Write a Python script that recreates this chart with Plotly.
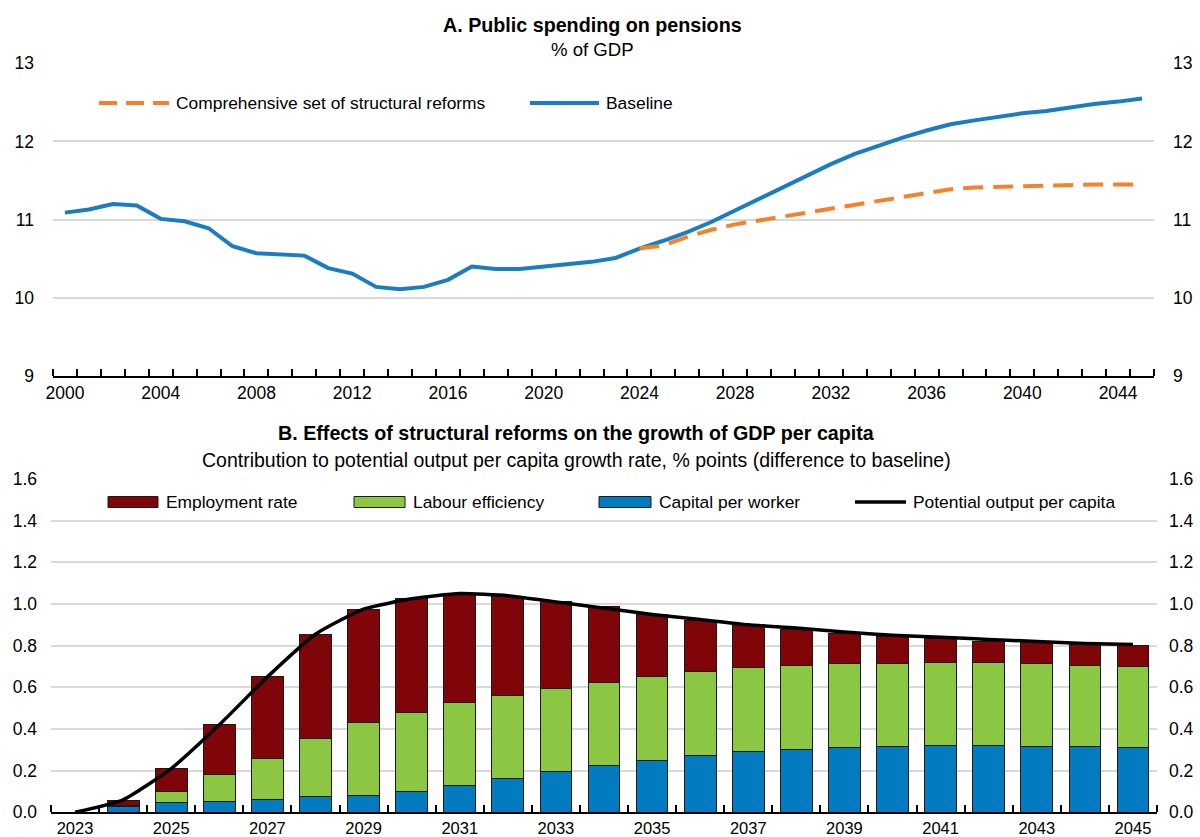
import plotly.graph_objects as go

# Panel A: public spending on pensions, % of GDP
years_a = list(range(2000, 2046))
baseline = [11.09, 11.13, 11.20, 11.18, 11.01, 10.98, 10.89, 10.66, 10.57, 10.55,
            10.54, 10.38, 10.31, 10.14, 10.11, 10.14, 10.23, 10.40, 10.37, 10.37,
            10.40, 10.42, 10.46, 10.51, 10.63, 10.73, 10.84, 10.97, 11.12, 11.27,
            11.42, 11.57, 11.71, 11.84, 11.95, 12.05, 12.14, 12.22, 12.27, 12.32,
            12.36, 12.39, 12.44, 12.48, 12.51, 12.55]
years_reform = list(range(2024, 2046))
reforms = [10.63, 10.67, 10.78, 10.87, 10.94, 10.99, 11.05, 11.09, 11.14, 11.20,
           11.24, 11.29, 11.34, 11.39, 11.41, 11.42, 11.42, 11.43, 11.44, 11.45,
           11.45, 11.45]

# Panel B: contributions to potential output per capita growth (pp)
years_b = list(range(2023, 2046))
capital = [0.0, 0.027, 0.048, 0.054, 0.061, 0.075, 0.082, 0.100, 0.128, 0.160,
           0.194, 0.226, 0.251, 0.274, 0.291, 0.302, 0.312, 0.317, 0.320, 0.320,
           0.317, 0.315, 0.312]
labour = [0.0, 0.004, 0.052, 0.126, 0.199, 0.279, 0.350, 0.378, 0.400, 0.400,
          0.401, 0.398, 0.402, 0.401, 0.402, 0.402, 0.400, 0.398, 0.397, 0.397,
          0.395, 0.392, 0.390]
employment = [0.0, 0.027, 0.110, 0.240, 0.390, 0.500, 0.542, 0.549, 0.518, 0.475,
              0.415, 0.363, 0.297, 0.248, 0.207, 0.174, 0.147, 0.128, 0.115, 0.105,
              0.102, 0.099, 0.101]
potential = [0.0, 0.06, 0.21, 0.42, 0.65, 0.855, 0.975, 1.025, 1.05, 1.04, 1.01,
             0.98, 0.95, 0.925, 0.90, 0.885, 0.865, 0.85, 0.84, 0.83, 0.82, 0.81,
             0.805]

FONT = "Liberation Sans, Arial, sans-serif"
BLUE_LINE = "#1a7dc2"
ORANGE = "#f5822a"
MAROON = "#7f0508"
GREEN = "#8cc743"
BLUE_BAR = "#037bc1"
GRID = "#d9d9d9"
H = 837
W = 1200
LEG_SIZE = 17.4

fig = go.Figure()

fig.add_trace(go.Scatter(x=years_a, y=baseline, mode="lines", name="Baseline",
                         line=dict(color=BLUE_LINE, width=4), xaxis="x", yaxis="y"))
fig.add_trace(go.Scatter(x=years_reform, y=reforms, mode="lines",
                         name="Comprehensive set of structural reforms",
                         line=dict(color=ORANGE, width=4, dash="20px,10px"),
                         xaxis="x", yaxis="y"))
# invisible copy so the right-hand axis of panel A is drawn
fig.add_trace(go.Scatter(x=years_a, y=baseline, mode="lines", opacity=0,
                         hoverinfo="skip", xaxis="x", yaxis="y3"))

for name, vals, col in [("Capital per worker", capital, BLUE_BAR),
                        ("Labour efficiency", labour, GREEN),
                        ("Employment rate", employment, MAROON)]:
    fig.add_trace(go.Bar(x=years_b, y=vals, name=name, width=0.66,
                         marker=dict(color=col, line=dict(color="#1a1a1a", width=1)),
                         xaxis="x2", yaxis="y2"))
fig.add_trace(go.Scatter(x=years_b, y=potential, mode="lines",
                         name="Potential output per capita",
                         line=dict(color="black", width=3.5, shape="spline", smoothing=0.5),
                         xaxis="x2", yaxis="y2"))
fig.add_trace(go.Scatter(x=years_b, y=potential, mode="lines", opacity=0,
                         hoverinfo="skip", xaxis="x2", yaxis="y4"))

tick_font = dict(family=FONT, size=17.5, color="black")


def px_x(v):
    return v / W


def px_y(v):
    return 1 - v / H


xcommon = dict(showgrid=False, zeroline=False, showline=True, linecolor="black",
               linewidth=2, ticks="", tickfont=tick_font, fixedrange=True,
               automargin=False,
               minor=dict(ticks="inside", ticklen=7, tickwidth=2, tickcolor="black",
                          dtick=1, showgrid=False))
ycommon = dict(showgrid=True, gridcolor=GRID, gridwidth=2, zeroline=False,
               showline=False, ticks="", tickfont=tick_font, automargin=False,
               fixedrange=True)

fig.update_layout(
    width=W, height=H,
    margin=dict(l=0, r=0, t=0, b=0, autoexpand=False),
    plot_bgcolor="white", paper_bgcolor="white",
    showlegend=False, barmode="stack",
    font=dict(family=FONT, size=17.5, color="black"),
    xaxis=dict(xcommon, domain=[px_x(53), px_x(1154)], anchor="y",
               range=[1999.5, 2045.5], tickmode="array",
               tickvals=list(range(2000, 2045, 4))),
    yaxis=dict(ycommon, domain=[px_y(376), px_y(63.3)], range=[9, 13], dtick=1,
               anchor="x", ticklabelstandoff=18),
    yaxis3=dict(ycommon, overlaying="y", side="right", matches="y", anchor="x",
                showgrid=False, dtick=1, ticklabelstandoff=18),
    xaxis2=dict(xcommon, domain=[px_x(51), px_x(1157)], anchor="y2",
                range=[2022.5, 2045.5], tickmode="array",
                tickvals=list(range(2023, 2046, 2)),
                tickfont=dict(family=FONT, size=16.5, color="black")),
    yaxis2=dict(ycommon, domain=[px_y(812.3), px_y(479)], range=[0, 1.6],
                dtick=0.2, tickformat=".1f", anchor="x2", ticklabelstandoff=13),
    yaxis4=dict(ycommon, overlaying="y2", side="right", matches="y2", anchor="x2",
                showgrid=False, tickformat=".1f", dtick=0.2, ticklabelstandoff=11),
)
fig.layout.xaxis.minor.tick0 = 1999.5
fig.layout.xaxis2.minor.tick0 = 2022.5

# panel titles
titles = [
    ("<b>A. Public spending on pensions</b>", 592, 25, 19.7),
    ("% of GDP", 592, 50, 18.6),
    ("<b>B. Effects of structural reforms on the growth of GDP per capita</b>", 576, 433, 19.7),
    ("Contribution to potential output per capita growth rate, % points (difference to baseline)",
     576, 460, 19.5),
]
for text, x, y, size in titles:
    fig.add_annotation(text=text, x=px_x(x), y=px_y(y), xref="paper", yref="paper",
                       showarrow=False, xanchor="center", yanchor="middle",
                       font=dict(family=FONT, size=size, color="black"))

# hand-drawn legends
legend_a = [("Comprehensive set of structural reforms", ORANGE, "dash", 99, 169),
            ("Baseline", BLUE_LINE, "solid", 530, 599)]
for text, col, dash, x0, x1 in legend_a:
    fig.add_shape(type="line", xref="paper", yref="paper", x0=px_x(x0), x1=px_x(x1),
                  y0=px_y(103), y1=px_y(103),
                  line=dict(color=col, width=4, dash="18px,9px" if dash == "dash" else "solid"))
    fig.add_annotation(text=text, x=px_x(x1 + 5), y=px_y(103), xref="paper", yref="paper",
                       showarrow=False, xanchor="left", yanchor="middle",
                       font=dict(family=FONT, size=LEG_SIZE, color="black"))

legend_b = [("Employment rate", MAROON, 108, 158),
            ("Labour efficiency", GREEN, 354, 405),
            ("Capital per worker", BLUE_BAR, 599, 651)]
for text, col, x0, x1 in legend_b:
    fig.add_shape(type="rect", xref="paper", yref="paper", x0=px_x(x0), x1=px_x(x1),
                  y0=px_y(507.5), y1=px_y(496.5), fillcolor=col,
                  line=dict(color="#1a1a1a", width=1))
    fig.add_annotation(text=text, x=px_x(x1 + 6), y=px_y(502), xref="paper", yref="paper",
                       showarrow=False, xanchor="left", yanchor="middle",
                       font=dict(family=FONT, size=LEG_SIZE, color="black"))
fig.add_shape(type="line", xref="paper", yref="paper", x0=px_x(855), x1=px_x(906),
              y0=px_y(502), y1=px_y(502), line=dict(color="black", width=3.5))
fig.add_annotation(text="Potential output per capita", x=px_x(911), y=px_y(502),
                   xref="paper", yref="paper", showarrow=False, xanchor="left",
                   yanchor="middle", font=dict(family=FONT, size=LEG_SIZE, color="black"))

# drop the page's default body margin so the 1200x837 figure fills the window
fig.write_html("out.html", config={"displayModeBar": False},
               post_script="document.body.style.margin='0';document.body.style.overflow='hidden';")
